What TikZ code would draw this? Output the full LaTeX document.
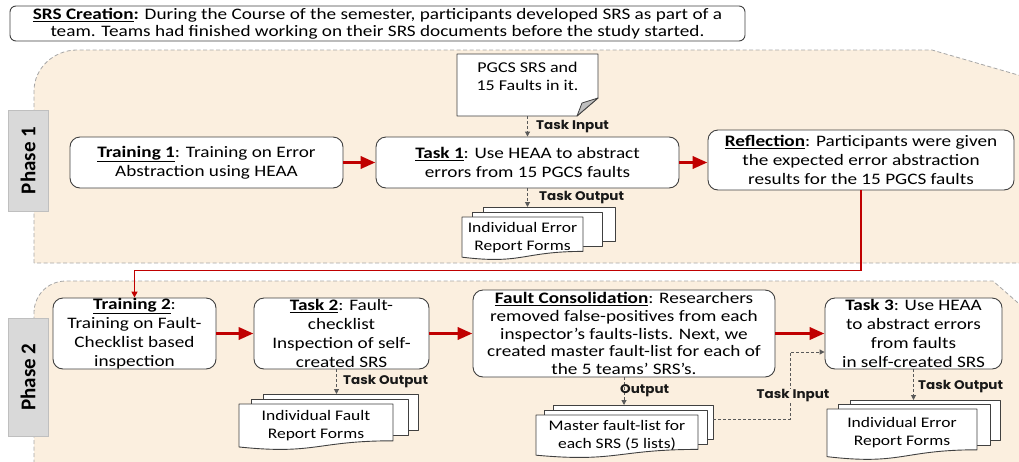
\documentclass[tikz,border=0pt]{standalone}
\usepackage{fontspec}
\setmainfont{Carlito}[FakeStretch=1.2]
\newfontfamily\tabfont{Carlito}
\newfontfamily\tagfont{Poppins}[FakeStretch=1.08]
\usetikzlibrary{arrows.meta}

\definecolor{phasebg}{HTML}{FBEFDF}
\definecolor{phaseedge}{HTML}{A6A6A6}
\definecolor{tabfill}{HTML}{D9D9D9}
\definecolor{tabedge}{HTML}{BFBFBF}
\definecolor{flowred}{HTML}{C00000}
\definecolor{boxedge}{HTML}{404040}
\definecolor{dashgray}{HTML}{595959}
\definecolor{foldgray}{HTML}{BFBFBF}

\newcommand\stepname[1]{\textbf{\underline{#1}}}

\tikzset{
  stepbox/.style={draw=boxedge, line width=0.9pt, rounded corners=10pt, fill=white,
    align=center, inner sep=0pt, font=\fontsize{16}{19}\selectfont},
  phasearea/.style={draw=phaseedge, dash pattern=on 4pt off 2.5pt, line width=0.8pt, fill=phasebg},
  phasetab/.style={draw=tabedge, fill=tabfill, line width=0.8pt, inner sep=0pt, rotate=90,
    font=\tabfont\bfseries\fontsize{21}{22}\selectfont, text=black},
  page/.style={draw=boxedge, line width=0.9pt, fill=white, line join=round},
  doctext/.style={align=center, inner sep=0pt, font=\fontsize{14.6}{18}\selectfont},
  flow/.style={flowred, line width=3.5pt, -{Triangle[length=15pt,width=12pt]}},
  loopback/.style={flowred, line width=1.5pt, -{Triangle[length=6pt,width=6pt]}},
  dataflow/.style={dashgray, line width=1pt, dash pattern=on 3pt off 2pt,
    -{Triangle[length=5pt,width=5pt]}},
  tag/.style={font=\tagfont\bfseries\fontsize{12.5}{13}\selectfont, inner sep=1pt, text=black!90},
}

% A stack of three report pages: the front page has a wavy bottom edge.
% #1 name, #2 front left, #3 front right, #4 back right, #5 front top,
% #6 page height, #7 x step, #8 y step, #9 text
\newcommand\pagestack[9]{%
  \pgfmathsetmacro\stkmid{#3+0.6*(#4-#3)}%
  \pgfmathsetmacro\stkbot{#5+0.80*#6}%
  \path[page] ({#2+2*#7},{#5-2*#8}) rectangle (#4,{\stkbot-2*#8});
  \path[page] ({#2+#7},{#5-#8}) rectangle (\stkmid,{\stkbot-#8});
  \path[page] (#2,#5) -- (#3,#5) -- (#3,\stkbot)
     .. controls ({(#2+#3)/2},\stkbot) and ({(#2+#3)/2},{#5+1.107*#6}) .. (#2,{#5+0.934*#6}) -- cycle;
  \node[doctext] (#1) at ({(#2+#3)/2},{#5+0.47*#6}) {#9};
  \coordinate (#1top) at ({(#2+#4)/2},{#5-2*#8});
  \coordinate (#1right) at (#4,{#5-2*#8+14});
}

\begin{document}
\begin{tikzpicture}[x=1pt,y=-1pt]
\useasboundingbox (0,0) rectangle (1019,461);

% phase areas
\path[phasearea] (34,263) -- (34,91) .. controls (34,68) and (54,50) .. (77,50)
   -- (932,50) -- (1025,77) -- (1025,263) -- cycle;
\path[phasearea] (34,470) -- (34,313) .. controls (34,295) and (48,281) .. (66,281)
   -- (993,281) -- (1025,309) -- (1025,470) -- cycle;

% phase tabs
\node[phasetab, minimum width=101pt, minimum height=40pt] (ph1) at (28,160.5) {Phase 1};
\node[phasetab, minimum width=118pt, minimum height=40pt] (ph2) at (28,377) {Phase 2};

% study set-up
\node[stepbox, rounded corners=6pt, minimum width=735pt, minimum height=35pt,
      font=\fontsize{16}{17}\selectfont] (srs) at (377.5,23.5)
  {\textbf{\underline{SRS Creation}:} During the Course of the semester, participants developed SRS as part of a\\
   team. Teams had finished working on their SRS documents before the study started.};

% ---------- phase 1 ----------
\node[stepbox, minimum width=273pt, minimum height=51pt] (train1) at (206.5,162.5)
  {\stepname{Training 1}: Training on Error\\Abstraction using HEAA};
\node[stepbox, minimum width=303pt, minimum height=51pt] (task1) at (527.5,162.5)
  {\stepname{Task 1}: Use HEAA to abstract\\errors from 15 PGCS faults};
\node[stepbox, minimum width=306pt, minimum height=60pt] (refl) at (861,160)
  {\stepname{Reflection}: Participants were given\\the expected error abstraction\\results for the 15 PGCS faults};

% PGCS SRS document with folded corner
\path[page] (457,54) -- (598,54) -- (598,98) -- (577,116) -- (457,116) -- cycle;
\path[draw=boxedge, fill=foldgray, line width=0.8pt, line join=round] (598,98) -- (582,103) -- (577,116) -- cycle;
\node[doctext, font=\fontsize{15}{18}\selectfont] (pgcs) at (527.5,76) {PGCS SRS and\\15 Faults in it.};
\coordinate (pgcsfoot) at (527.5,116);

\pagestack{ierfa}{462}{583}{615}{217}{43}{10.5}{5}{Individual Error\\Report Forms}

\draw[dataflow] (pgcsfoot) -- (task1.north);
\draw[dataflow] (task1.south) -- (task1.south |- ierfatop);
\node[tag, anchor=west] (tin1) at (535,127) {Task Input};
\node[tag, anchor=west] (tout1) at (538,198) {Task Output};

\draw[flow] (train1.east) -- (task1.west);
\draw[flow] (task1.east) -- (task1.east -| refl.west);

% ---------- phase 2 ----------
\node[stepbox, minimum width=163pt, minimum height=71pt] (train2) at (134.5,333.5)
  {\stepname{Training 2}:\\Training on Fault-\\Checklist based\\inspection};
\node[stepbox, minimum width=175pt, minimum height=71pt] (task2) at (341.5,333.5)
  {\stepname{Task 2}: Fault-\\checklist\\Inspection of self-\\created SRS};
\node[stepbox, minimum width=302pt, minimum height=87pt, font=\fontsize{16}{17.7}\selectfont] (fc) at (624,333.5)
  {\stepname{Fault Consolidation}: Researchers\\removed false-positives from each\\inspector’s faults-lists. Next, we\\created master fault-list for each of\\the 5 teams’ SRS’s.};
\node[stepbox, minimum width=177pt, minimum height=71pt] (task3) at (913.5,333.5)
  {\textbf{Task 3}: Use HEAA\\to abstract errors\\from faults\\in self-created SRS};

\pagestack{ifrf}{239}{393}{418}{404}{46}{12}{5}{Individual Fault\\Report Forms}
\pagestack{master}{536}{698}{713}{415}{43}{8.5}{5}{Master fault-list for\\each SRS (5 lists)}
\pagestack{ierfb}{827}{977}{1000}{409}{51}{11.5}{4.5}{Individual Error\\Report Forms}

\draw[flow] (train2.east) -- (task2.west);
\draw[flow] (task2.east) -- (fc.west);
\draw[flow] (fc.east) -- (task3.west);

\draw[dataflow] ([xshift=-5pt]task2.south) -- ([xshift=-5pt]task2.south |- ifrftop);
\draw[dataflow] (fc.south) -- (fc.south |- mastertop);
\draw[dataflow] (task3.south) -- (task3.south |- ierfbtop);
\draw[dataflow] (masterright) -- ++(77,0) |- ([yshift=-18.5pt]task3.west);

\node[tag, anchor=west] (tout2) at (342,382) {Task Output};
\node[tag, anchor=west] (out3) at (619,391) {Output};
\node[tag, fill=phasebg] (tin3) at (793,396) {Task Input};
\node[tag, anchor=west] (tout4) at (917,387) {Task Output};

% back from reflection to the second training
\draw[loopback] (refl.south) -- ++(0,80) -| (train2.north);
\end{tikzpicture}
\end{document}
